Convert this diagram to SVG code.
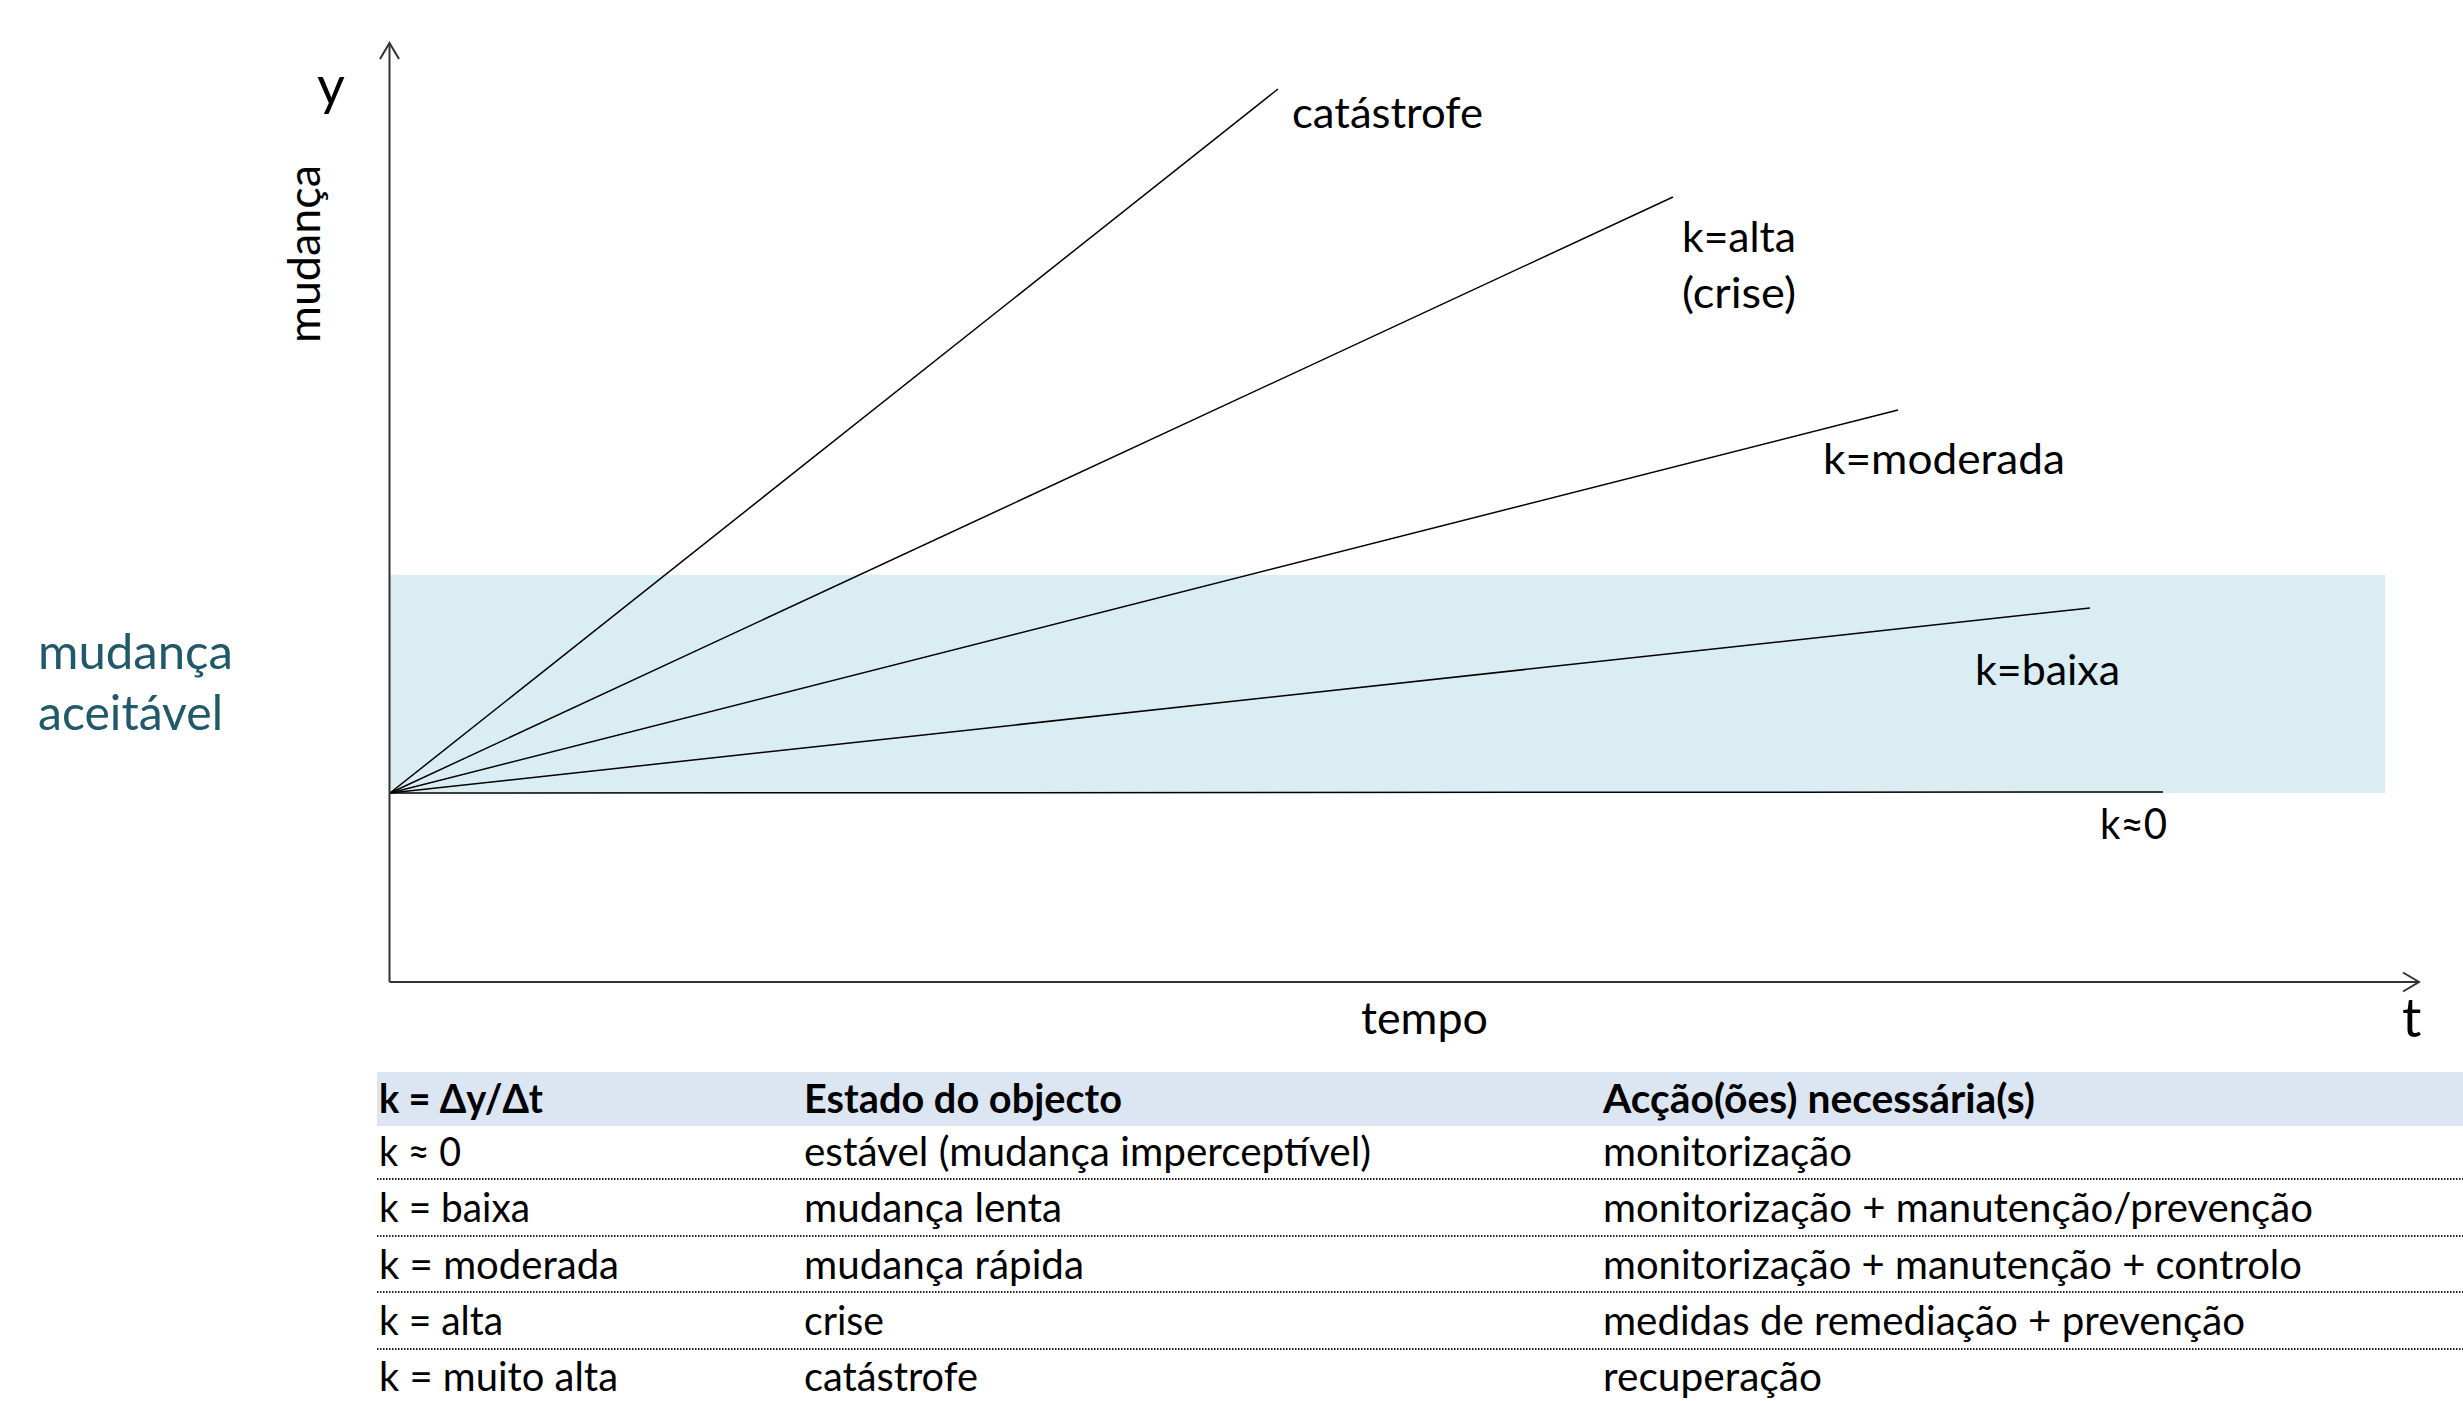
<svg xmlns="http://www.w3.org/2000/svg" width="2463" height="1401" viewBox="0 0 2463 1401">
<style>
text{font-family:Lato,"Noto Sans","Liberation Sans",sans-serif;fill:#000}
.lbl{font-size:43px}
.tb{font-size:40px}
.th{font-size:40px;font-weight:bold}
.teal{fill:#215968;font-size:48px}
.ray{stroke:#000;stroke-width:1.5;fill:none}
.axis{stroke:#333;stroke-width:2;fill:none}
.dot{stroke:#222;stroke-width:2;stroke-dasharray:1.5 1.5;fill:none}
</style>
<defs>
<marker id="arr" markerUnits="userSpaceOnUse" markerWidth="40" markerHeight="40" viewBox="-20 -20 40 40" refX="0" refY="0" orient="auto">
<path d="M-16,-9.5 L0,0 L-16,9.5" fill="none" stroke="#333" stroke-width="2"/>
</marker>
</defs>
<rect id="band" x="390" y="575" width="1995" height="218" fill="#DAEDF3"/>
<g id="connectors">
<line class="ray" x1="390" y1="793" x2="1278" y2="89"/>
<line class="ray" x1="390" y1="793" x2="1673" y2="197"/>
<line class="ray" x1="390" y1="793" x2="1898" y2="410"/>
<line class="ray" x1="390" y1="793" x2="2090" y2="608"/>
<line class="ray" x1="390" y1="793" x2="2163" y2="792"/>
<line class="axis" x1="389.5" y1="982" x2="389.5" y2="43" marker-end="url(#arr)"/>
<line class="axis" x1="389.5" y1="982" x2="2419" y2="982" marker-end="url(#arr)"/>
</g>
<g id="axis-labels">
<text x="317" y="105" style="font-size:54px">y</text>
<text x="320" y="254" style="font-size:44px" text-anchor="middle" textLength="178" lengthAdjust="spacingAndGlyphs" transform="rotate(-90 320 254)">mudança</text>
<text x="1361" y="1034" style="font-size:44px" textLength="127" lengthAdjust="spacingAndGlyphs">tempo</text>
<text x="2402" y="1037" style="font-size:54px">t</text>
</g>
<g id="acceptable">
<text x="38" y="669" class="teal" textLength="195" lengthAdjust="spacingAndGlyphs">mudança</text>
<text x="38" y="730" class="teal" textLength="185" lengthAdjust="spacingAndGlyphs">aceitável</text>
</g>
<g id="label-catastrofe"><text x="1292" y="128" class="lbl" textLength="191" lengthAdjust="spacingAndGlyphs">catástrofe</text></g>
<g id="label-alta">
<text x="1682" y="252" class="lbl" textLength="114" lengthAdjust="spacingAndGlyphs">k=alta</text>
<text x="1682" y="308" class="lbl" textLength="114" lengthAdjust="spacingAndGlyphs">(crise)</text>
</g>
<g id="label-moderada"><text x="1823" y="474" class="lbl" textLength="242" lengthAdjust="spacingAndGlyphs">k=moderada</text></g>
<g id="label-baixa"><text x="1975" y="685" class="lbl" textLength="145" lengthAdjust="spacingAndGlyphs">k=baixa</text></g>
<g id="label-zero"><text x="2100" y="839" class="lbl" textLength="67" lengthAdjust="spacingAndGlyphs">k≈0</text></g>
<g id="table">
<rect x="377" y="1072" width="2086" height="54" fill="#DCE6F2"/>
<line class="dot" x1="377" y1="1179" x2="2463" y2="1179"/>
<line class="dot" x1="377" y1="1236" x2="2463" y2="1236"/>
<line class="dot" x1="377" y1="1292" x2="2463" y2="1292"/>
<line class="dot" x1="377" y1="1349" x2="2463" y2="1349"/>
<text x="379" y="1113" class="th" textLength="164" lengthAdjust="spacingAndGlyphs">k = Δy/Δt</text>
<text x="804" y="1113" class="th" textLength="318" lengthAdjust="spacingAndGlyphs">Estado do objecto</text>
<text x="1603" y="1113" class="th" textLength="432" lengthAdjust="spacingAndGlyphs">Acção(ões) necessária(s)</text>
<text x="379" y="1166" class="tb" textLength="82" lengthAdjust="spacingAndGlyphs">k ≈ 0</text>
<text x="804" y="1166" class="tb" textLength="567" lengthAdjust="spacingAndGlyphs">estável (mudança imperceptível)</text>
<text x="1603" y="1166" class="tb" textLength="249" lengthAdjust="spacingAndGlyphs">monitorização</text>
<text x="379" y="1222" class="tb" textLength="151" lengthAdjust="spacingAndGlyphs">k = baixa</text>
<text x="804" y="1222" class="tb" textLength="258" lengthAdjust="spacingAndGlyphs">mudança lenta</text>
<text x="1603" y="1222" class="tb" textLength="710" lengthAdjust="spacingAndGlyphs">monitorização + manutenção/prevenção</text>
<text x="379" y="1279" class="tb" textLength="240" lengthAdjust="spacingAndGlyphs">k = moderada</text>
<text x="804" y="1279" class="tb" textLength="280" lengthAdjust="spacingAndGlyphs">mudança rápida</text>
<text x="1603" y="1279" class="tb" textLength="699" lengthAdjust="spacingAndGlyphs">monitorização + manutenção + controlo</text>
<text x="379" y="1335" class="tb" textLength="124" lengthAdjust="spacingAndGlyphs">k = alta</text>
<text x="804" y="1335" class="tb" textLength="80" lengthAdjust="spacingAndGlyphs">crise</text>
<text x="1603" y="1335" class="tb" textLength="642" lengthAdjust="spacingAndGlyphs">medidas de remediação + prevenção</text>
<text x="379" y="1391" class="tb" textLength="239" lengthAdjust="spacingAndGlyphs">k = muito alta</text>
<text x="804" y="1391" class="tb" textLength="174" lengthAdjust="spacingAndGlyphs">catástrofe</text>
<text x="1603" y="1391" class="tb" textLength="219" lengthAdjust="spacingAndGlyphs">recuperação</text>
</g>
</svg>
